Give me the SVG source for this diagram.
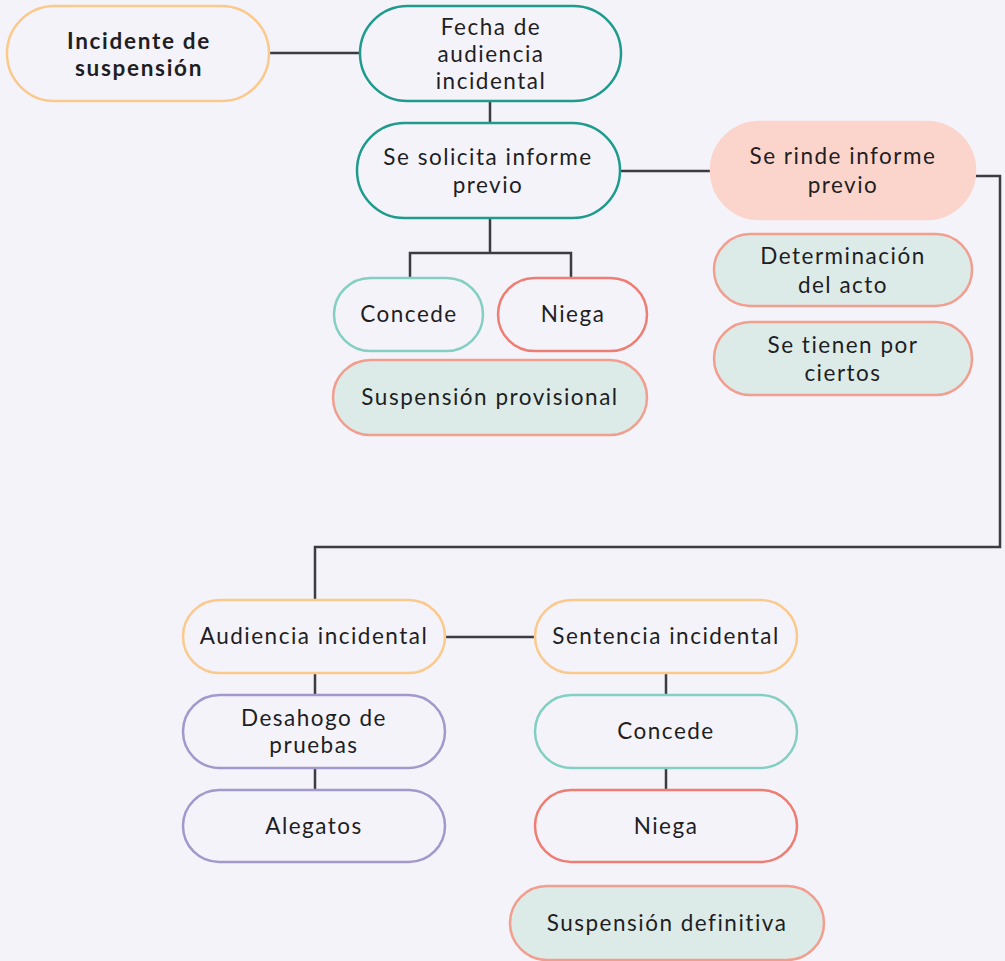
<svg xmlns="http://www.w3.org/2000/svg" width="1005" height="961" viewBox="0 0 1005 961">
<style>
text{font-family:Lato,"Liberation Sans",sans-serif;font-size:22.5px;fill:#1e1e24;text-anchor:middle;letter-spacing:1.5px}
.b{font-weight:bold;letter-spacing:1.7px}
.n{stroke-width:2.5}
.or{fill:#f4f3f9;stroke:#fbc98c}
.tg{fill:#f4f3f9;stroke:#1f9b8d}
.tl{fill:#f4f3f9;stroke:#84cfc3}
.rd{fill:#f4f3f9;stroke:#ee7d73}
.pu{fill:#f4f3f9;stroke:#a298cb}
.gr{fill:#ddebe8;stroke:#f29e8f}
.pk{fill:#fbd5cc;stroke:#fbd5cc}
.c{fill:none;stroke:#3b3b42;stroke-width:2.5}
</style>
<rect width="1005" height="961" fill="#f4f3f9"/>
<g id="connectors">
<path class="c" d="M269 53H360"/>
<path class="c" d="M490 101V123"/>
<path class="c" d="M490 218V253M410 278V253H571V278"/>
<path class="c" d="M620 171H711"/>
<path class="c" d="M975 176H1000V547H315V600"/>
<path class="c" d="M445 637H535"/>
<path class="c" d="M315 673V695M315 768V790"/>
<path class="c" d="M666 673V695M666 768V790"/>
</g>
<g id="incidente"><rect class="n or" x="7" y="6" width="262" height="95" rx="47.5"/><text class="b" x="139" y="49">Incidente de</text><text class="b" x="139" y="76">suspensión</text></g>
<g id="fecha"><rect class="n tg" x="360" y="6" width="261" height="95" rx="47.5"/><text x="491" y="35">Fecha de</text><text x="491" y="62">audiencia</text><text x="491" y="89">incidental</text></g>
<g id="solicita"><rect class="n tg" x="357" y="123" width="263" height="95" rx="47.5"/><text x="488" y="165">Se solicita informe</text><text x="488" y="193">previo</text></g>
<g id="rinde"><rect class="n pk" x="711" y="122" width="264" height="97" rx="48.5"/><text x="843" y="164">Se rinde informe</text><text x="843" y="193">previo</text></g>
<g id="determinacion"><rect class="n gr" x="714" y="234" width="258" height="72" rx="36"/><text x="843" y="264">Determinación</text><text x="843" y="293">del acto</text></g>
<g id="ciertos"><rect class="n gr" x="714" y="322" width="258" height="73" rx="36.5"/><text x="843" y="353">Se tienen por</text><text x="843" y="381">ciertos</text></g>
<g id="concede1"><rect class="n tl" x="334" y="278" width="149" height="73" rx="36.5"/><text x="409" y="322">Concede</text></g>
<g id="niega1"><rect class="n rd" x="498" y="278" width="149" height="73" rx="36.5"/><text x="573" y="322">Niega</text></g>
<g id="provisional"><rect class="n gr" x="333" y="360" width="314" height="75" rx="37.5"/><text x="490" y="405">Suspensión provisional</text></g>
<g id="audiencia"><rect class="n or" x="183" y="600" width="262" height="73" rx="36.5"/><text x="314" y="644">Audiencia incidental</text></g>
<g id="sentencia"><rect class="n or" x="535" y="600" width="262" height="73" rx="36.5"/><text x="666" y="644">Sentencia incidental</text></g>
<g id="desahogo"><rect class="n pu" x="183" y="695" width="262" height="73" rx="36.5"/><text x="314" y="726">Desahogo de</text><text x="314" y="753">pruebas</text></g>
<g id="alegatos"><rect class="n pu" x="183" y="790" width="262" height="72" rx="36"/><text x="314" y="834">Alegatos</text></g>
<g id="concede2"><rect class="n tl" x="535" y="695" width="262" height="73" rx="36.5"/><text x="666" y="739">Concede</text></g>
<g id="niega2"><rect class="n rd" x="535" y="790" width="262" height="72" rx="36"/><text x="666" y="834">Niega</text></g>
<g id="definitiva"><rect class="n gr" x="510" y="886" width="314" height="74" rx="37"/><text x="667" y="931">Suspensión definitiva</text></g>
</svg>
